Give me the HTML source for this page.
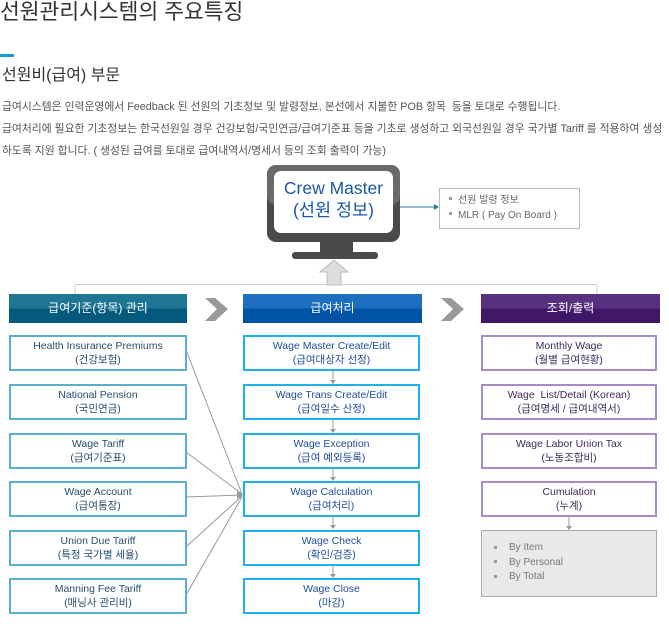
<!DOCTYPE html>
<html><head><meta charset="utf-8"><style>
*{margin:0;padding:0;box-sizing:border-box}
body{width:669px;height:624px;background:#fff;position:relative;overflow:hidden;font-family:"Liberation Sans","Noto Sans CJK KR",sans-serif}
.a{position:absolute}
.t{white-space:nowrap}
.hd{position:absolute;height:29px;color:#fff;font-size:12px;text-align:center;line-height:29px}
.bx{position:absolute;height:36px;background:#fff;border:2px solid;font-size:10.5px;text-align:center;line-height:14px;padding-top:2px;white-space:nowrap}
.L{left:9px;width:178px;border-color:#5aaece;color:#264e6e}
.M{left:243px;width:177px;border-color:#1eb0ea;color:#1d4c9a}
.R{left:481px;width:176px;border-color:#a58cc8;color:#3c2a5a}
.p{font-size:10.8px;color:#555;left:2px}
</style></head><body>
<div class="a t" style="left:0;top:-5px;font-size:21.5px;color:#333">선원관리시스템의 주요특징</div>
<div class="a" style="left:0;top:54px;width:14px;height:3px;background:#109fd2"></div>
<div class="a t" style="left:2px;top:61px;font-size:16px;color:#333">선원비(급여) 부문</div>
<div class="a t p" style="top:98px">급여시스템은 인력운영에서 Feedback 된 선원의 기초정보 및 발령정보, 본선에서 지불한 POB 항목&nbsp; 등을 토대로 수행됩니다.</div>
<div class="a t p" style="top:120px">급여처리에 필요한 기초정보는 한국선원일 경우 건강보험/국민연금/급여기준표 등을 기초로 생성하고 외국선원일 경우 국가별 Tariff 를 적용하여 생성</div>
<div class="a t p" style="top:142px">하도록 지원 합니다. ( 생성된 급여를 토대로 급여내역서/명세서 등의 조회 출력이 가능)</div>

<svg class="a" style="left:0;top:0" width="669" height="624">
<rect x="267" y="165" width="133" height="77" rx="9" fill="#4a4a4a"/>
<rect x="267" y="165" width="133" height="40" rx="9" fill="#6a6a6a"/>
<rect x="274" y="171" width="119" height="62" rx="7" fill="#fff"/>
<rect x="320" y="242" width="33" height="12" fill="#4a4a4a"/>
<rect x="292" y="252" width="86" height="7" rx="3" fill="#4a4a4a"/>
<polygon points="334,260 348,272 341,272 341,285 327,285 327,272 320,272" fill="#ddd" stroke="#bbb"/>
<line x1="400" y1="207" x2="434" y2="207" stroke="#2a7a9a"/>
<polygon points="434,204 439,207 434,210" fill="#2a7a9a"/>
<rect x="439.5" y="188.5" width="140" height="40" fill="#fff" stroke="#bbb"/>
<polyline points="75,294 75,284.5 597,284.5 597,294" fill="none" stroke="#ccc"/>
<polygon points="205,298 215,298 228,309 215,321 205,321 217,309" fill="#999"/>
<polygon points="441,298 451,298 464,309 451,321 441,321 453,309" fill="#999"/>
<g stroke="#999" fill="none">
<line x1="186" y1="350" x2="242" y2="494"/>
<line x1="186" y1="452" x2="242" y2="494"/>
<line x1="186" y1="497" x2="242" y2="495"/>
<line x1="186" y1="547" x2="242" y2="496"/>
<line x1="186" y1="595" x2="242" y2="497"/>
<line x1="333" y1="371" x2="333" y2="381"/>
<line x1="333" y1="420" x2="333" y2="430"/>
<line x1="333" y1="468" x2="333" y2="478"/>
<line x1="333" y1="516" x2="333" y2="526"/>
<line x1="333" y1="565" x2="333" y2="575"/>
<line x1="569" y1="516" x2="569" y2="527"/>
</g>
<polygon points="237,491 243,495 237,499" fill="#999"/>
<g fill="#999">
<polygon points="330,380 336,380 333,384"/><polygon points="330,429 336,429 333,433"/><polygon points="330,477 336,477 333,481"/><polygon points="330,525 336,525 333,529"/><polygon points="330,574 336,574 333,578"/><polygon points="566,526 572,526 569,530"/>
</g>
<rect x="481.5" y="530.5" width="175" height="66" fill="#e9e9e9" stroke="#aaa"/>
<g fill="#999"><rect x="494" y="546" width="3" height="3"/><rect x="494" y="560" width="3" height="3"/><rect x="494" y="575" width="3" height="3"/>
<rect x="449" y="197" width="3" height="3"/><rect x="449" y="212" width="3" height="3"/></g>
</svg>
<div class="a t" style="left:274px;top:177px;width:119px;text-align:center;font-size:17.5px;line-height:22px;color:#1a57a6">Crew Master<br>(선원 정보)</div>
<div class="a t" style="left:458px;top:193px;font-size:10px;line-height:15px;color:#666">선원 발령 정보<br>MLR ( Pay On Board )</div>
<div class="a t" style="left:509px;top:541px;font-size:10px;line-height:14.5px;color:#777">By Item<br>By Personal<br>By Total</div>

<div class="hd" style="left:9px;top:294px;width:178px;background:linear-gradient(#1f7694 0,#1f7694 50%,#045a7c 50%)">급여기준(항목) 관리</div>
<div class="hd" style="left:243px;top:294px;width:179px;background:linear-gradient(#1e6fbf 0,#1e6fbf 50%,#0054a8 50%)">급여처리</div>
<div class="hd" style="left:481px;top:294px;width:179px;background:linear-gradient(#573180 0,#573180 50%,#3f1766 50%)">조회/출력</div>

<div class="bx L" style="top:335px">Health Insurance Premiums<br>(건강보험)</div>
<div class="bx L" style="top:384px">National Pension<br>(국민연금)</div>
<div class="bx L" style="top:433px">Wage Tariff<br>(급여기준표)</div>
<div class="bx L" style="top:481px">Wage Account<br>(급여통장)</div>
<div class="bx L" style="top:530px">Union Due Tariff<br>(특정 국가별 세율)</div>
<div class="bx L" style="top:578px">Manning Fee Tariff<br>(매닝사 관리비)</div>

<div class="bx M" style="top:335px">Wage Master Create/Edit<br>(급여대상자 선정)</div>
<div class="bx M" style="top:384px">Wage Trans Create/Edit<br>(급여일수 산정)</div>
<div class="bx M" style="top:433px">Wage Exception<br>(급여 예외등록)</div>
<div class="bx M" style="top:481px">Wage Calculation<br>(급여처리)</div>
<div class="bx M" style="top:530px">Wage Check<br>(확인/검증)</div>
<div class="bx M" style="top:578px">Wage Close<br>(마감)</div>

<div class="bx R" style="top:335px">Monthly Wage<br>(월별 급여현황)</div>
<div class="bx R" style="top:384px">Wage&nbsp; List/Detail (Korean)<br>(급여명세 / 급여내역서)</div>
<div class="bx R" style="top:433px">Wage Labor Union Tax<br>(노동조합비)</div>
<div class="bx R" style="top:481px">Cumulation<br>(누계)</div>
</body></html>
